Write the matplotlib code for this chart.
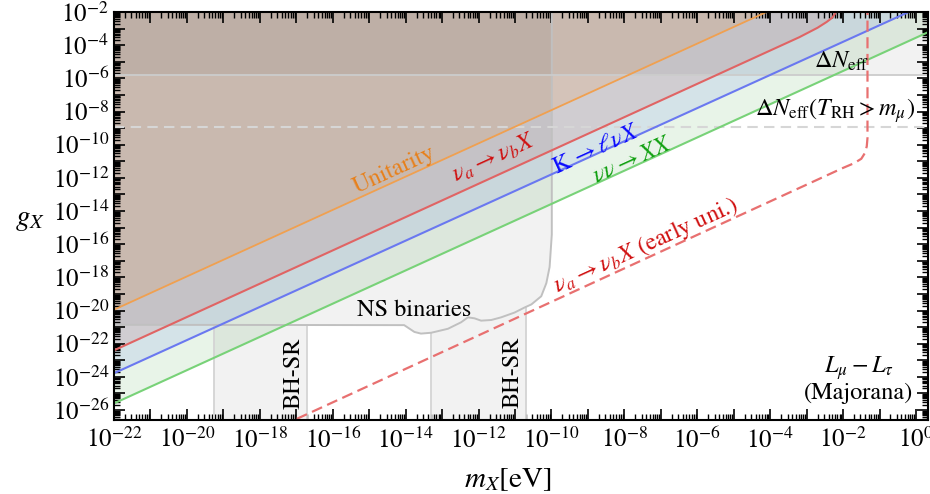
import numpy as np
import matplotlib
matplotlib.use("Agg")
import matplotlib.pyplot as plt
from matplotlib.ticker import LogLocator, FuncFormatter, NullFormatter

plt.rcParams['font.family'] = 'STIXGeneral'
plt.rcParams['mathtext.fontset'] = 'stix'

# all values are log10
unit_m = [-22.0, -4.1]
unit_g = [-19.95, -2.0]
decay_m = [-22.0, -3.2, -2.7, -2.45, -2.3, -2.22, -2.2]
decay_g = [-22.4, -3.52, -2.95, -2.6, -2.35, -2.1, -1.9]
kaon_m = [-22.0, -0.2]
kaon_g = [-23.78, -2.0]
nunu_m = [-22.0, 0.5]
nunu_g = [-25.6, -3.05]
early_m = [-17.4, -2.0, -1.7, -1.5, -1.4, -1.35, -1.33, -1.33]
early_g = [-26.95, -11.4, -11.12, -10.85, -10.5, -10.1, -9.6, -1.9]
ns_m = [-22.0, -14.04, -13.76, -13.58, -13.30, -12.84, -12.48, -12.29, -12.11,
        -11.93, -11.65, -11.38, -11.01, -10.74, -10.55, -10.28, -10.14, -10.05,
        -9.99, -9.99]
ns_g = [-20.86, -20.88, -21.29, -21.39, -21.34, -21.10, -20.71, -20.41, -20.47,
        -20.61, -20.57, -20.41, -20.12, -19.82, -19.63, -19.14, -18.35, -17.37,
        -15.41, -1.9]
bh_lo = [-19.26, -13.30]
bh_hi = [-16.71, -10.69]
dneff = -5.8
dneff_rh = -8.92

xmin, xmax = 1e-22, 10**0.33
ymin, ymax = 10**-26.6, 1e-2

fig = plt.figure(figsize=(9.3, 4.94), dpi=100)
ax = fig.add_axes([114/930, 1-420/494, (928-114)/930, 408/494])
ax.set_xscale('log')
ax.set_yscale('log')
ax.set_xlim(xmin, xmax)
ax.set_ylim(ymin, ymax)


def above(m, g, color, alpha):
    m = 10**np.asarray(m)
    g = 10**np.asarray(g)
    ax.fill(np.r_[m, m[-1], m[0]], np.r_[g, 1.0, 1.0], color=color,
            alpha=alpha, lw=0, zorder=1)


above(nunu_m, nunu_g, (35/255, 155/255, 35/255), 0.1)
above(kaon_m, kaon_g, (100/255, 130/255, 235/255), 0.15)
above(decay_m, decay_g, (190/255, 80/255, 80/255), 0.15)
above(unit_m, unit_g, (235/255, 150/255, 70/255), 0.17)

# grey constraints
gray = dict(color='k', alpha=0.05, lw=0, zorder=1.5)
ax.fill(np.r_[10**np.array(ns_m), 1e-22], np.r_[10**np.array(ns_g), 1.0], **gray)
ax.axhspan(10**dneff, 1.0, **gray)
for lo, hi in zip(bh_lo, bh_hi):
    top_lo = np.interp(lo, ns_m, ns_g)
    top_hi = np.interp(hi, ns_m, ns_g)
    sel = [(a, b) for a, b in zip(ns_m, ns_g) if lo < a < hi]
    pm = [lo, lo] + [a for a, b in sel] + [hi, hi]
    pg = [-30, top_lo] + [b for a, b in sel] + [top_hi, -30]
    ax.fill(10**np.array(pm), 10**np.array(pg), **gray)
    ax.plot([10**lo, 10**lo], [1e-30, 10**top_lo], color='#d4d4d4', lw=1.3, zorder=1.6)
    ax.plot([10**hi, 10**hi], [1e-30, 10**top_hi], color='#d4d4d4', lw=1.3, zorder=1.6)

ax.plot(10**np.array(ns_m), 10**np.array(ns_g), color='#c0c0c0', lw=1.4, zorder=1.7)
ax.axhline(10**dneff, color='#cccccc', lw=1.3, zorder=1.7)
ax.axhline(10**dneff_rh, color='#d6d6d6', lw=1.5, ls=(0, (5, 3)), zorder=1.7)

ax.plot(10**np.array(unit_m), 10**np.array(unit_g), color='#f0a050', lw=1.3, zorder=2)
ax.plot(10**np.array(decay_m), 10**np.array(decay_g), color='#e06464', lw=1.5, zorder=2)
ax.plot(10**np.array(kaon_m), 10**np.array(kaon_g), color='#6a78f0', lw=1.5, zorder=2)
ax.plot(10**np.array(nunu_m), 10**np.array(nunu_g), color='#78d278', lw=1.5, zorder=2)
ax.plot(10**np.array(early_m), 10**np.array(early_g), color='#e87070', lw=1.6,
        ls=(0, (5, 2.5)), zorder=2)

# angle of a slope-one line on screen
p = ax.transData.transform([(1e-20, 1e-20), (1e-10, 1e-10)])
ang = np.degrees(np.arctan2(p[1, 1] - p[0, 1], p[1, 0] - p[0, 0]))

fs = 17.5
ax.text(10**-14.32, 10**-11.54, 'Unitarity', color='#e8801a', fontsize=fs,
        rotation=ang, ha='center', va='center', zorder=3)
ax.text(10**-11.57, 10**-10.81, r'$\nu_a \rightarrow \nu_b X$', color='#d01010',
        fontsize=fs, rotation=ang, ha='center', va='center', zorder=3)
ax.text(10**-8.77, 10**-10.33, r'K$\,\rightarrow \ell\nu X$', color='#0a0aff',
        fontsize=fs, rotation=ang, ha='center', va='center', zorder=3)
ax.text(10**-7.78, 10**-10.93, r'$\nu\nu \rightarrow XX$', color='#10a010',
        fontsize=fs, rotation=ang, ha='center', va='center', zorder=3)
ax.text(10**-7.40, 10**-16.06, r'$\nu_a \rightarrow \nu_b X$ (early uni.)',
        color='#d01010', fontsize=fs, rotation=ang, ha='center', va='center', zorder=3)
ax.text(10**-2.04, 10**-4.96, r'$\Delta N_{\rm eff}$', fontsize=fs,
        ha='center', va='center', zorder=3)
ax.text(10**-0.03, 10**-7.97, r'$\Delta N_{\rm eff}(T_{\rm RH} > m_\mu)$', fontsize=fs,
        ha='right', va='center', zorder=3)
ax.text(10**-13.77, 10**-19.98, 'NS binaries', fontsize=fs, ha='center',
        va='center', zorder=3)
ax.text(10**-17.07, 10**-23.79, 'BH-SR', fontsize=fs, rotation=90, ha='center',
        va='center', zorder=3)
ax.text(10**-11.05, 10**-23.73, 'BH-SR', fontsize=fs, rotation=90, ha='center',
        va='center', zorder=3)
ax.text(0.915, 0.1, r'$L_\mu - L_\tau$' + '\n(Majorana)', fontsize=fs,
        transform=ax.transAxes, ha='center', va='center', multialignment='center',
        linespacing=1.05, zorder=3)


def even_pow(v, pos):
    e = int(round(np.log10(v)))
    return r'$10^{%d}$' % e if e % 2 == 0 else ''


for axis in (ax.xaxis, ax.yaxis):
    axis.set_major_locator(LogLocator(base=10, numticks=60))
    axis.set_minor_locator(LogLocator(base=10, subs=np.arange(2, 10), numticks=60))
    axis.set_major_formatter(FuncFormatter(even_pow))
    axis.set_minor_formatter(NullFormatter())

ax.tick_params(which='both', direction='in', top=True, right=True, labelsize=18)
ax.tick_params(which='major', length=8, width=1.2)
ax.tick_params(which='minor', length=4, width=1.0)
ax.tick_params(axis='x', which='major', pad=6)
for s in ax.spines.values():
    s.set_linewidth(1.5)

ax.set_xlabel(r'$m_X$[eV]', fontsize=21)
ax.set_ylabel(r'$g_X$', fontsize=21, rotation=0, ha='center', va='center')
ax.xaxis.set_label_coords(0.484, -0.113)
ax.yaxis.set_label_coords(-0.103, 0.49)

fig.savefig('out.png', dpi=100)
